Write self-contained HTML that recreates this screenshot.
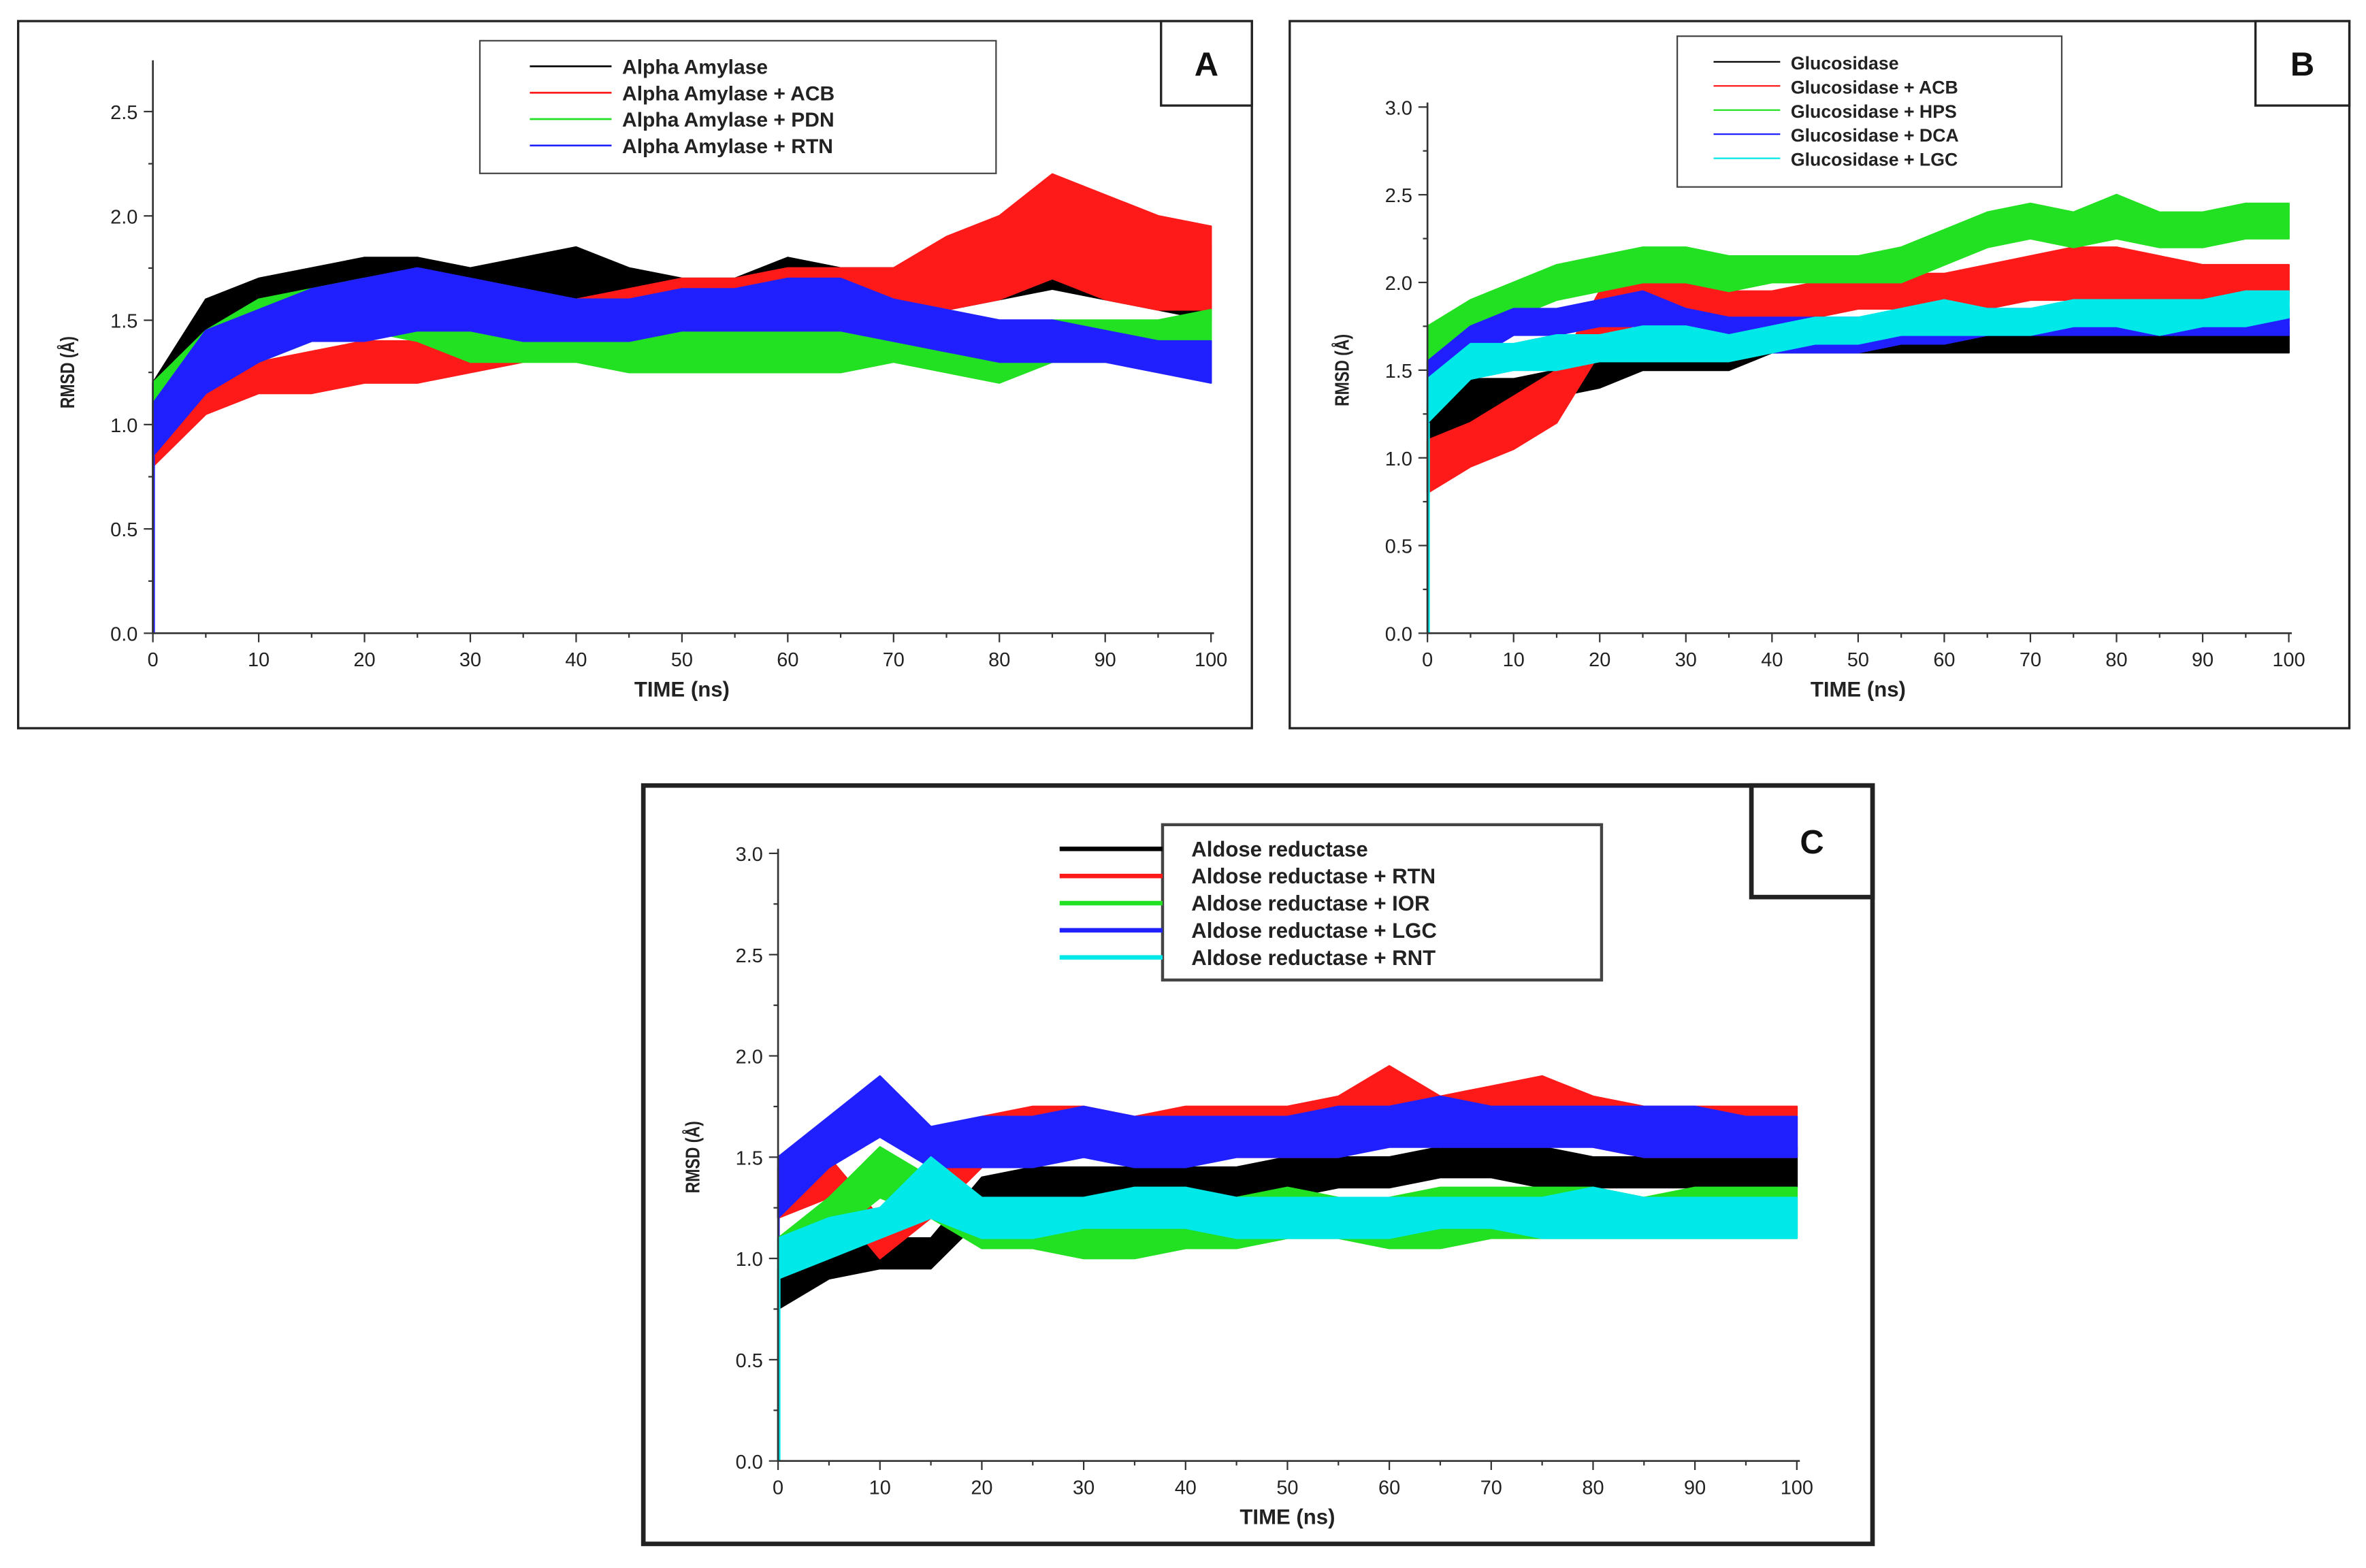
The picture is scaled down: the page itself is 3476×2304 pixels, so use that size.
<!DOCTYPE html>
<html><head><meta charset="utf-8">
<style>
html,body{margin:0;padding:0;background:#fff;}
svg{display:block;}
text{font-family:"Liberation Sans",sans-serif;}
</style></head>
<body>
<svg id="fig" width="3476" height="2304" viewBox="0 0 1563 1040" preserveAspectRatio="none" xmlns="http://www.w3.org/2000/svg">
<rect x="0" y="0" width="1563" height="1040" fill="#fff"/>
</svg>
<script>
// ---- data: time points (ns) and lo/hi RMSD envelope per series ----
const timeNs = [0,5,10,15,20,25,30,35,40,45,50,55,60,65,70,75,80,85,90,95,100];

const aBlackLo=[0.9,1.2,1.35,1.4,1.5,1.5,1.45,1.5,1.5,1.45,1.4,1.45,1.5,1.5,1.5,1.55,1.6,1.65,1.6,1.55,1.5];
const aBlackHi=[1.2,1.6,1.7,1.75,1.8,1.8,1.75,1.8,1.85,1.75,1.7,1.7,1.8,1.75,1.75,1.8,1.95,1.95,1.95,1.9,1.85];
const aRedLo=[0.8,1.05,1.15,1.15,1.2,1.2,1.25,1.3,1.35,1.4,1.45,1.5,1.5,1.5,1.5,1.55,1.6,1.7,1.6,1.55,1.55];
const aRedHi=[1.05,1.25,1.3,1.35,1.4,1.4,1.4,1.45,1.6,1.65,1.7,1.7,1.75,1.75,1.75,1.9,2.0,2.2,2.1,2.0,1.95];
const aGreenLo=[0.9,1.2,1.3,1.4,1.45,1.4,1.3,1.3,1.3,1.25,1.25,1.25,1.25,1.25,1.3,1.25,1.2,1.3,1.3,1.3,1.35];
const aGreenHi=[1.2,1.45,1.6,1.65,1.7,1.65,1.55,1.5,1.5,1.45,1.45,1.45,1.45,1.45,1.5,1.45,1.4,1.5,1.5,1.5,1.55];
const aBlueLo=[0.85,1.15,1.3,1.4,1.4,1.45,1.45,1.4,1.4,1.4,1.45,1.45,1.45,1.45,1.4,1.35,1.3,1.3,1.3,1.25,1.2];
const aBlueHi=[1.1,1.45,1.55,1.65,1.7,1.75,1.7,1.65,1.6,1.6,1.65,1.65,1.7,1.7,1.6,1.55,1.5,1.5,1.45,1.4,1.4];

const bBlackLo=[1.0,1.2,1.3,1.35,1.4,1.5,1.5,1.5,1.6,1.6,1.6,1.6,1.6,1.6,1.6,1.6,1.6,1.6,1.6,1.6,1.6];
const bBlackHi=[1.3,1.45,1.45,1.5,1.6,1.65,1.65,1.65,1.75,1.75,1.75,1.75,1.75,1.75,1.75,1.75,1.75,1.75,1.75,1.75,1.75];
const bRedLo=[0.8,0.95,1.05,1.2,1.6,1.8,1.8,1.8,1.8,1.8,1.85,1.85,1.85,1.85,1.9,1.9,1.9,1.85,1.85,1.9,1.9];
const bRedHi=[1.1,1.2,1.35,1.5,1.95,2.0,2.0,1.95,1.95,2.0,2.0,2.05,2.05,2.1,2.15,2.2,2.2,2.15,2.1,2.1,2.1];
const bGreenLo=[1.5,1.7,1.8,1.9,1.95,2.0,2.0,1.95,2.0,2.0,2.0,2.0,2.1,2.2,2.25,2.2,2.25,2.2,2.2,2.25,2.25];
const bGreenHi=[1.75,1.9,2.0,2.1,2.15,2.2,2.2,2.15,2.15,2.15,2.15,2.2,2.3,2.4,2.45,2.4,2.5,2.4,2.4,2.45,2.45];
const bBlueLo=[1.3,1.55,1.7,1.7,1.75,1.75,1.7,1.65,1.6,1.6,1.6,1.65,1.65,1.7,1.7,1.7,1.7,1.7,1.7,1.7,1.7];
const bBlueHi=[1.55,1.75,1.85,1.85,1.9,1.95,1.85,1.8,1.8,1.8,1.8,1.8,1.8,1.85,1.85,1.85,1.85,1.85,1.85,1.85,1.85];
const bCyanLo=[1.2,1.45,1.5,1.5,1.55,1.55,1.55,1.55,1.6,1.65,1.65,1.7,1.7,1.7,1.7,1.75,1.75,1.7,1.75,1.75,1.8];
const bCyanHi=[1.45,1.65,1.65,1.7,1.7,1.75,1.75,1.7,1.75,1.8,1.8,1.85,1.9,1.85,1.85,1.9,1.9,1.9,1.9,1.95,1.95];

const cBlackLo=[0.75,0.9,0.95,0.95,1.2,1.3,1.3,1.3,1.3,1.3,1.3,1.35,1.35,1.4,1.4,1.35,1.35,1.35,1.35,1.35,1.35];
const cBlackHi=[0.95,1.05,1.1,1.1,1.4,1.45,1.45,1.45,1.45,1.45,1.5,1.5,1.5,1.55,1.55,1.55,1.5,1.5,1.55,1.55,1.55];
const cRedLo=[1.2,1.3,1.0,1.2,1.45,1.5,1.5,1.5,1.5,1.5,1.5,1.5,1.6,1.55,1.6,1.6,1.55,1.5,1.5,1.5,1.5];
const cRedHi=[1.45,1.5,1.2,1.5,1.7,1.75,1.75,1.7,1.75,1.75,1.75,1.8,1.95,1.8,1.85,1.9,1.8,1.75,1.75,1.75,1.75];
const cGreenLo=[0.9,1.1,1.3,1.2,1.05,1.05,1.0,1.0,1.05,1.05,1.1,1.1,1.05,1.05,1.1,1.1,1.1,1.1,1.1,1.1,1.1];
const cGreenHi=[1.1,1.3,1.55,1.4,1.25,1.2,1.2,1.2,1.25,1.3,1.35,1.3,1.3,1.35,1.35,1.35,1.35,1.3,1.35,1.35,1.35];
const cBlueLo=[1.2,1.45,1.6,1.45,1.45,1.45,1.5,1.45,1.45,1.5,1.5,1.5,1.55,1.55,1.55,1.55,1.55,1.5,1.5,1.5,1.5];
const cBlueHi=[1.5,1.7,1.9,1.65,1.7,1.7,1.75,1.7,1.7,1.7,1.7,1.75,1.75,1.8,1.75,1.75,1.75,1.75,1.75,1.7,1.7];
const cCyanLo=[0.9,1.0,1.1,1.2,1.1,1.1,1.15,1.15,1.15,1.1,1.1,1.1,1.1,1.15,1.15,1.1,1.1,1.1,1.1,1.1,1.1];
const cCyanHi=[1.1,1.2,1.25,1.5,1.3,1.3,1.3,1.35,1.35,1.3,1.3,1.3,1.3,1.3,1.3,1.3,1.35,1.3,1.3,1.3,1.3];

const xTicks=[0,10,20,30,40,50,60,70,80,90,100];
const yTicksA=[0,0.5,1.0,1.5,2.0,2.5];
const yTicksBC=[0,0.5,1.0,1.5,2.0,2.5,3.0];
const legendA=["Alpha Amylase","Alpha Amylase + ACB","Alpha Amylase + PDN","Alpha Amylase + RTN"];
const legendB=["Glucosidase","Glucosidase + ACB","Glucosidase + HPS","Glucosidase + DCA","Glucosidase + LGC"];
const legendC=["Aldose reductase","Aldose reductase + RTN","Aldose reductase + IOR","Aldose reductase + LGC","Aldose reductase + RNT"];

const NS="http://www.w3.org/2000/svg";
const svg=document.getElementById('fig');
function mk(tag,attrs,parent){const e=document.createElementNS(NS,tag);for(const k in attrs)e.setAttribute(k,attrs[k]);(parent||svg).appendChild(e);return e;}

function panel(cfg){
  const g=mk('g',{});
  
  
  const X=v=>cfg.x0+(cfg.x1-cfg.x0)*v/100;
  const Y=v=>cfg.y0-(cfg.y0-cfg.yTop)*v/cfg.yMax;
  const fr=mk('rect',{x:cfg.fx,y:cfg.fy,width:cfg.fw,height:cfg.fh,fill:'none',stroke:'#222','stroke-width':cfg.fsw},g);
  
  
  cfg.series.forEach((s,si)=>{
    let pts=[];
    timeNs.forEach((t,i)=>pts.push(X(t)+','+Y(s.hi[i])));
    for(let i=timeNs.length-1;i>=0;i--)pts.push(X(timeNs[i])+','+Y(s.lo[i]));
    const p=mk('polygon',{points:pts.join(' '),fill:s.color,stroke:s.color,'stroke-width':1.2,'stroke-linejoin':'round'},g);
    
    
    const sp=mk('line',{x1:X(0)+0.25*si,y1:Y(0),x2:X(0)+0.25*si,y2:Y(s.lo[0]),stroke:s.color,'stroke-width':1.2},g);
    
    
  });
  const ax=mk('path',{d:`M${cfg.x0},${cfg.axTop} V${cfg.y0} H${cfg.x1+2}`,fill:'none',stroke:'#333','stroke-width':1.2},g);
  
  
  xTicks.forEach(t=>{
    mk('line',{x1:X(t),y1:cfg.y0,x2:X(t),y2:cfg.y0+6,stroke:'#333','stroke-width':1},g);
    if(t<100)mk('line',{x1:X(t+5),y1:cfg.y0,x2:X(t+5),y2:cfg.y0+3,stroke:'#333','stroke-width':1},g);
    const tx=mk('text',{x:X(t),y:cfg.y0+22,'font-size':cfg.fs,'text-anchor':'middle',fill:'#222'},g);
    tx.textContent=String(t);
    
    
  });
  cfg.yTicks.forEach((t,i)=>{
    mk('line',{x1:cfg.x0,y1:Y(t),x2:cfg.x0-6,y2:Y(t),stroke:'#333','stroke-width':1},g);
    if(t+0.25<=cfg.yMax)mk('line',{x1:cfg.x0,y1:Y(t+0.25),x2:cfg.x0-3,y2:Y(t+0.25),stroke:'#333','stroke-width':1},g);
    const ty=mk('text',{x:cfg.x0-10,y:Y(t)+5,'font-size':cfg.fs,'text-anchor':'end',fill:'#222'},g);
    ty.textContent=t.toFixed(1);
    
    
  });
  const xt=mk('text',{x:(cfg.x0+cfg.x1)/2,y:cfg.y0+42,'font-size':cfg.fs+1,'font-weight':'bold','text-anchor':'middle',fill:'#222'},g);
  xt.textContent='TIME (ns)';
  
  
  const yy=(cfg.y0+cfg.yTop)/2;
  const yt=mk('text',{x:cfg.x0-52,y:yy,'font-size':cfg.fs,'font-weight':'bold','text-anchor':'middle',fill:'#222'},g);
  yt.setAttribute('transform',`translate(${cfg.x0-52} ${yy}) rotate(-90) scale(0.8 1) translate(${-(cfg.x0-52)} ${-yy})`);
  yt.textContent='RMSD (Å)';
  
  
  const L=cfg.leg;
  const lb=mk('rect',{x:L.x,y:L.y,width:L.w,height:L.h,fill:'#fff',stroke:'#444','stroke-width':cfg.lsw},g);
  
  
  cfg.legendColors.forEach((c,i)=>{
    const yy2=L.y+L.first+i*L.step;
    const ln=mk('line',{x1:L.lx1,y1:yy2,x2:L.lx2,y2:yy2,stroke:c,'stroke-width':L.lw},g);
    
    
    const tt=mk('text',{x:L.tx,y:yy2+5,'font-size':L.fs,'font-weight':'bold',fill:'#222'},g);
    tt.textContent=cfg.labels[i];
    
    
  });
  const lr=mk('rect',{x:cfg.lab.x,y:cfg.lab.y,width:cfg.lab.w,height:cfg.lab.h,fill:'#fff',stroke:'#222','stroke-width':cfg.fsw},g);
  
  
  const lt=mk('text',{x:cfg.lab.x+cfg.lab.w/2,y:cfg.lab.y+cfg.lab.h/2+8,'font-size':22,'font-weight':'bold','text-anchor':'middle',fill:'#111','font-family':'Liberation Serif, serif'},g);
  lt.textContent=cfg.letter;
  
  
}

const BK='#000',RD='#ff1a1a',GR='#22e022',BL='#2020ff',CY='#00e8e8';

panel({name:'panel-a',letter:'A',fx:12,fy:14,fw:815,fh:469,fsw:1.5,x0:101,x1:800,y0:420,yTop:74,yMax:2.5,axTop:40,
  yTicks:yTicksA,fs:13,labels:legendA,legendColors:[BK,RD,GR,BL],
  series:[{key:'black',color:BK,lo:aBlackLo,hi:aBlackHi},{key:'red',color:RD,lo:aRedLo,hi:aRedHi},
          {key:'green',color:GR,lo:aGreenLo,hi:aGreenHi},{key:'blue',color:BL,lo:aBlueLo,hi:aBlueHi}],
  leg:{x:317,y:27,w:341,h:88,first:17,step:17.5,lx1:350,lx2:404,tx:411,fs:13.5,lw:1.2},lsw:1,
  lab:{x:767,y:14,w:60,h:56}});

panel({name:'panel-b',letter:'B',fx:852,fy:14,fw:700,fh:469,fsw:1.5,x0:943,x1:1512,y0:420,yTop:71,yMax:3,axTop:68,
  yTicks:yTicksBC,fs:13,labels:legendB,legendColors:[BK,RD,GR,BL,CY],
  series:[{key:'black',color:BK,lo:bBlackLo,hi:bBlackHi},{key:'red',color:RD,lo:bRedLo,hi:bRedHi},
          {key:'green',color:GR,lo:bGreenLo,hi:bGreenHi},{key:'blue',color:BL,lo:bBlueLo,hi:bBlueHi},
          {key:'cyan',color:CY,lo:bCyanLo,hi:bCyanHi}],
  leg:{x:1108,y:24,w:254,h:100,first:17,step:16,lx1:1132,lx2:1176,tx:1183,fs:12,lw:1},lsw:1,
  lab:{x:1490,y:14,w:62,h:56}});

panel({name:'panel-c',letter:'C',fx:425,fy:521,fw:812,fh:503,fsw:3,x0:514,x1:1187,y0:969,yTop:566,yMax:3,axTop:563,
  yTicks:yTicksBC,fs:13,labels:legendC,legendColors:[BK,RD,GR,BL,CY],
  series:[{key:'black',color:BK,lo:cBlackLo,hi:cBlackHi},{key:'red',color:RD,lo:cRedLo,hi:cRedHi},
          {key:'blue',color:BL,lo:cBlueLo,hi:cBlueHi},{key:'green',color:GR,lo:cGreenLo,hi:cGreenHi},
          {key:'cyan',color:CY,lo:cCyanLo,hi:cCyanHi}],
  leg:{x:768,y:547,w:290,h:103,first:16,step:18,lx1:700,lx2:768,tx:787,fs:14,lw:3},lsw:2,
  lab:{x:1157,y:521,w:80,h:74}});
</script>
</body></html>
